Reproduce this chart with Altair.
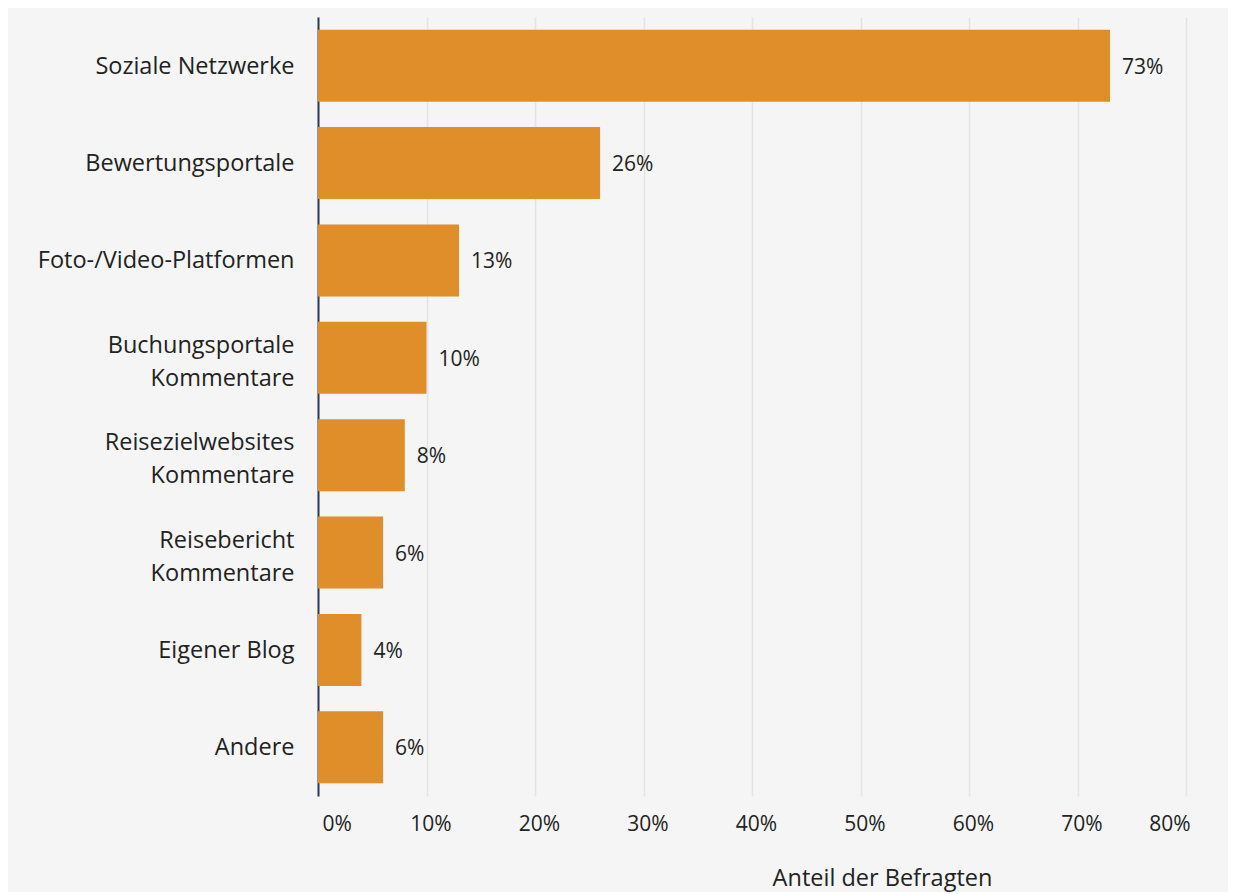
import altair as alt
import pandas as pd

categories = [
    "Soziale Netzwerke",
    "Bewertungsportale",
    "Foto-/Video-Platformen",
    "Buchungsportale|Kommentare",
    "Reisezielwebsites|Kommentare",
    "Reisebericht|Kommentare",
    "Eigener Blog",
    "Andere",
]
values = [73, 26, 13, 10, 8, 6, 4, 6]
labels = [f"{v}%" for v in values]

df = pd.DataFrame({"cat": categories, "val": values, "lab": labels})

FONT = "Open Sans"

y_enc = alt.Y(
    "cat:N",
    sort=categories,
    title=None,
    scale=alt.Scale(paddingInner=0.26, paddingOuter=0.13),
    axis=alt.Axis(
        labelExpr="split(datum.label, '|')",
        labelFontSize=23.5,
        labelFont=FONT,
        labelColor="#222222",
        labelLineHeight=33,
        labelPadding=24,
        labelLimit=400,
        labelOffset={"condition": {"test": "indexof(datum.value, '|') >= 0", "value": -12}, "value": 1},
        ticks=False,
        domain=True,
        domainColor="#2c3a5a",
        domainWidth=2,
        grid=False,
        minExtent=310,
        maxExtent=310,
    ),
)

x_enc = alt.X(
    "val:Q",
    title="Anteil der Befragten",
    scale=alt.Scale(domain=[0, 80], nice=False),
    axis=alt.Axis(
        values=[0, 10, 20, 30, 40, 50, 60, 70, 80],
        labelExpr="datum.value + '%'",
        labelFontSize=21,
        labelFont=FONT,
        labelColor="#222222",
        labelPadding=17,
        labelOffset=4,
        ticks=False,
        domain=False,
        grid=True,
        gridColor="#e4e4e4",
        gridWidth=1.5,
        titleFont=FONT,
        titleFontSize=23.5,
        titleFontWeight="normal",
        titleColor="#222222",
        titleX=564,
        titleY=70,
        titleAlign="center",
        titleBaseline="top",
    ),
)

bars = alt.Chart(df).mark_bar(color="#e08e29").encode(x=x_enc, y=y_enc)

text = alt.Chart(df).mark_text(
    align="left", baseline="middle", dx=12, dy=2, fontSize=21, font=FONT, color="#222222"
).encode(
    x=alt.X("val:Q"),
    y=alt.Y("cat:N", sort=categories),
    text="lab:N",
)

chart = (
    (bars + text)
    .properties(width=868, height=779, background="#f5f5f5",
                padding={"top": 9, "left": 0, "right": 38, "bottom": 2})
    .configure_view(stroke=None)
)

chart.save("out.html", embed_options={"renderer": "svg", "actions": False})
